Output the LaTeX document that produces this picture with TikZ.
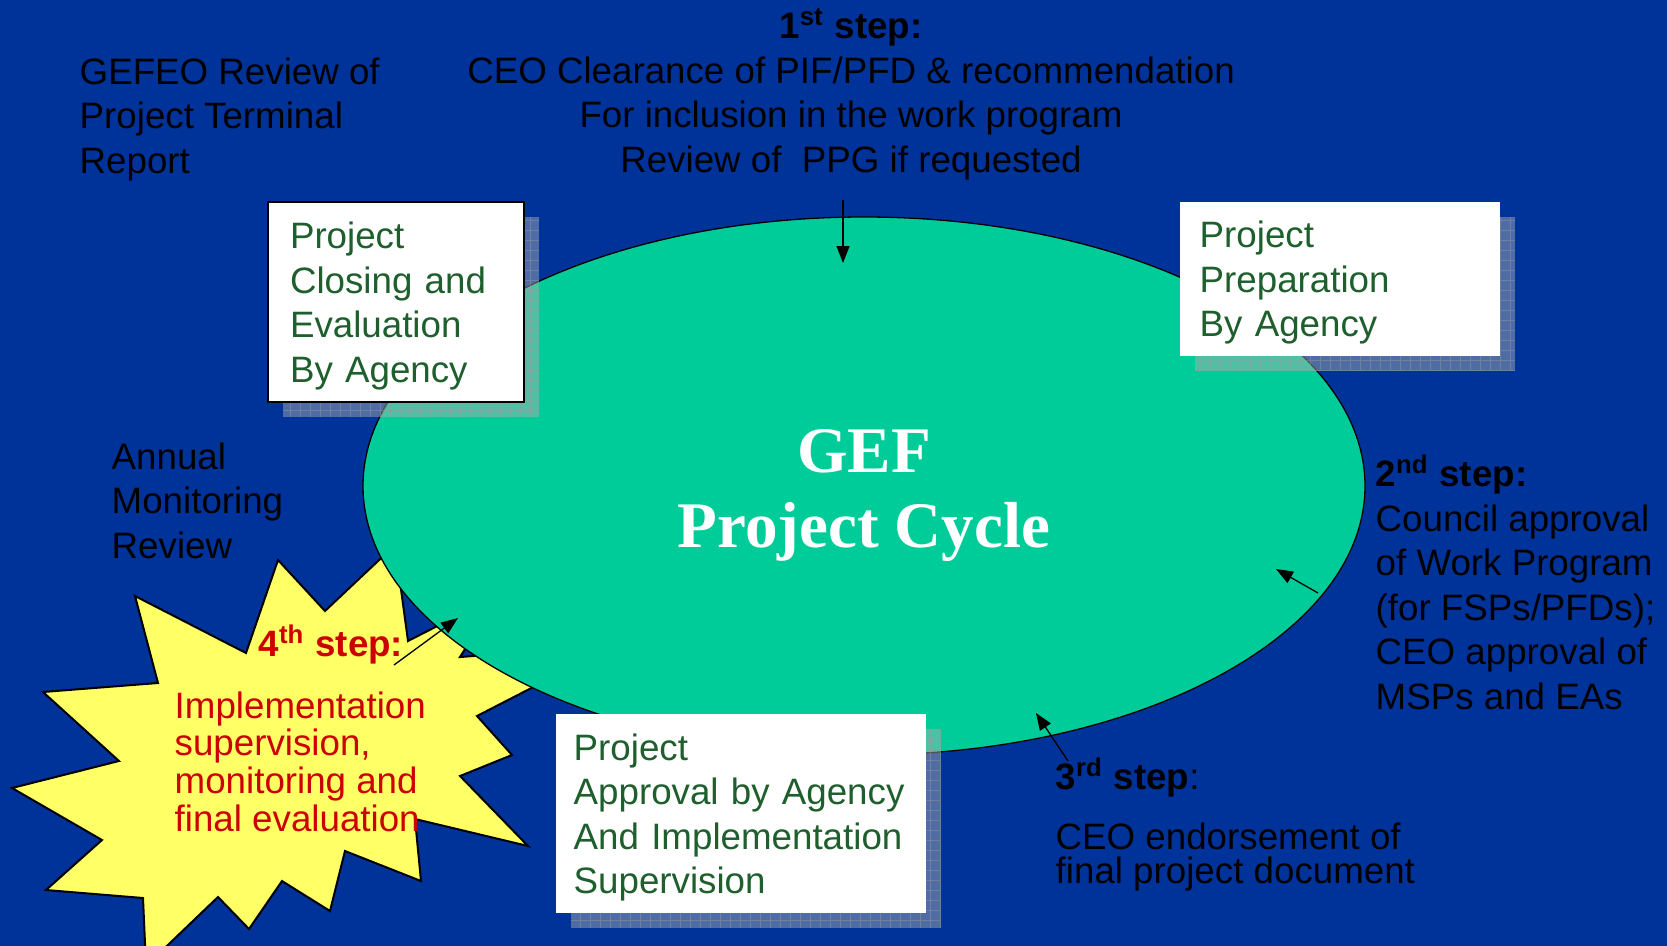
\documentclass[tikz,border=0pt]{standalone}
\usepackage{fontspec}
\setmainfont{Liberation Sans}
\newfontfamily\gefserif{Liberation Serif}
\usetikzlibrary{arrows.meta,shapes.geometric}
\definecolor{gefblue}{RGB}{0,51,153}
\definecolor{gefgreen}{RGB}{0,204,153}
\definecolor{gefstar}{RGB}{255,255,102}
\definecolor{gefink}{RGB}{30,95,45}
\definecolor{gefred}{RGB}{204,0,0}
\tikzset{
  geftext/.style={font=\fontsize{10.45}{12.66}\selectfont, inner sep=0pt,
    align=left, anchor=base west},
  gefcard/.style={fill=white, text=gefink, anchor=north west, align=left,
    inner xsep=2mm, inner ysep=0pt, text height=3.5mm,
    font=\fontsize{10.45}{12.66}\selectfont},
  gefshadow/.style={fill=gray!60, fill opacity=0.45},
  gefgrid/.style={draw=gray!80, opacity=0.45, line width=0.08mm},
  gefarrow/.style={-{Triangle[length=1.7mm, width=1.3mm]}, line width=0.13mm, black},
}

\begin{document}
\begin{tikzpicture}[x=0.1mm, y=-0.1mm]
  \useasboundingbox (0,0) rectangle (1667,946);
  \fill[gefblue] (0,0) rectangle (1667,946);

  % burst behind the cycle
  \begin{scope}
    \clip (0,0) rectangle (1667,946);
    \filldraw[fill=gefstar, draw=black, line width=0.2mm, line join=miter]
      (278,560) -- (325,611) -- (395,545) -- (408,641) -- (500,594)
      -- (460,657) -- (530,652) -- (545,681) -- (477,716) -- (512,755)
      -- (460,776) -- (528,846) -- (415,819) -- (421,881) -- (345,851)
      -- (330,911) -- (282,881) -- (249,929) -- (218,897) -- (146,966)
      -- (143,898) -- (46,890) -- (102,840) -- (12,788) -- (119,761)
      -- (43,692) -- (158,683) -- (135,596) -- (246,653) -- cycle;
  \end{scope}

  \node[ellipse, fill=gefgreen, draw=black, line width=0.13mm,
    minimum width=100.2mm, minimum height=53.8mm] (cycle) at (864,486) {};
  \node[font=\gefserif\bfseries\fontsize{18.5}{21.3}\selectfont, text=white,
    align=center, anchor=base, inner sep=0pt] (title) at (864,547)
    {GEF\\Project Cycle};

  % shadows of the cards
  \fill[gefshadow] (283,217) rectangle (539,417);
  \draw[gefgrid, step=1mm] (283,217) grid (539,417);
  \fill[gefshadow] (1195,217) rectangle (1515,371);
  \draw[gefgrid, step=1mm] (1195,217) grid (1515,371);
  \fill[gefshadow] (571,729) rectangle (941,928);
  \draw[gefgrid, step=1mm] (571,729) grid (941,928);

  \node[gefcard, draw=black, line width=0.2mm, inner xsep=2.2mm,
    text width=21.2mm, minimum height=20mm] (closing) at (267,201)
    {Project\\Closing and\\Evaluation\\By Agency};
  \node[gefcard, text width=28mm, minimum height=15.4mm] (prep) at (1179,201)
    {Project\\Preparation\\By Agency};
  \node[gefcard, inner xsep=1.8mm, text width=33.4mm, minimum height=19.9mm]
    (approval) at (555,713)
    {Project\\Approval by Agency\\And Implementation\\Supervision};

  % multi-line labels sit on the baseline of their last line
  \node[geftext, align=center, anchor=base] (step1) at (851,172)
    {\textbf{1\textsuperscript{st} step:}\\CEO Clearance of PIF/PFD \& recommendation\\
     For inclusion in the work program\\Review of\ \ PPG if requested};
  \node[geftext] (gefeo) at (79,173) {GEFEO Review of\\Project Terminal\\Report};
  \node[geftext] (annual) at (111,558) {Annual\\Monitoring\\Review};
  \node[geftext] (step2) at (1375,709)
    {\textbf{2\textsuperscript{nd} step:}\\Council approval\\of Work Program\\
     (for FSPs/PFDs);\\CEO approval of\\MSPs and EAs};
  \node[geftext, font=\fontsize{10.45}{9.67}\selectfont] (step3) at (1055,883)
    {\textbf{3\textsuperscript{rd} step}:\\[2.2mm]CEO endorsement of\\final project document};
  \node[geftext, text=gefred, font=\fontsize{10.45}{12.66}\selectfont\bfseries]
    (step4) at (258,656) {4\textsuperscript{th} step:};
  \node[geftext, text=gefred, font=\fontsize{10.45}{10.7}\selectfont] (step4text)
    at (174,831) {Implementation\\supervision,\\monitoring and\\final evaluation};

  \coordinate (s1from) at (843,200);
  \coordinate (s1to) at (843,263);
  \coordinate (s2from) at (1318,593);
  \coordinate (s2to) at (1276,569);
  \coordinate (s3from) at (1068,761);
  \coordinate (s3to) at (1036,713);
  \coordinate (s4from) at (394,665);
  \coordinate (s4to) at (458,618);
  \draw[gefarrow] (s1from) -- (s1to);
  \draw[gefarrow] (s2from) -- (s2to);
  \draw[gefarrow] (s3from) -- (s3to);
  \draw[gefarrow] (s4from) -- (s4to);
\end{tikzpicture}
\end{document}
